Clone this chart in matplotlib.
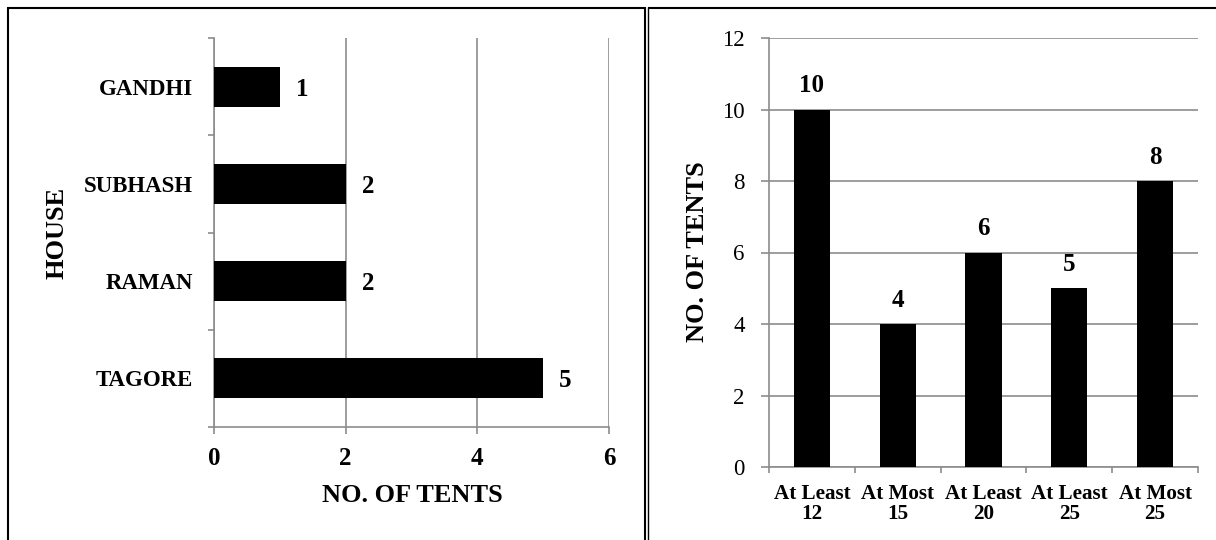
import matplotlib
matplotlib.use("Agg")
import matplotlib.pyplot as plt
from matplotlib.lines import Line2D
import numpy as np

# ---- data ----
houses = ['TAGORE', 'RAMAN', 'SUBHASH', 'GANDHI']
house_tents = [5, 2, 2, 1]
left_xticks = [0, 2, 4, 6]

groups = ['At Least\n12', 'At Most\n15', 'At Least\n20', 'At Least\n25', 'At Most\n25']
group_tents = [10, 4, 6, 5, 8]
right_yticks = [0, 2, 4, 6, 8, 10, 12]

plt.rcParams['font.family'] = ['Liberation Serif', 'DejaVu Serif']

W, H = 1216, 540
fig = plt.figure(figsize=(W / 100, H / 100), dpi=100)


def fx(px):
    return px / W


def fy(py):
    return 1 - py / H


GRID = '#8c8c8c'
GLW = 1.2

# ---- panel borders ----
def fline(x0, y0, x1, y1, lw):
    fig.add_artist(Line2D([fx(x0), fx(x1)], [fy(y0), fy(y1)], color='black',
                          lw=lw, transform=fig.transFigure, solid_capstyle='butt'))

fline(8, 8, 645, 8, 1.5)
fline(8, 7.3, 8, 541, 1.5)
fline(645, 7.3, 645, 541, 1.5)
fline(648.5, 8, 1217, 8, 1.5)
fline(648.5, 7.3, 648.5, 541, 1.0)

# ---- left chart ----
ax1 = fig.add_axes([fx(214), fy(427), fx(609) - fx(214), fy(38) - fy(427)])
y = np.arange(len(houses))
ax1.barh(y, house_tents, height=0.41, color='black', zorder=3)
ax1.set_xlim(0, 6)
ax1.set_ylim(-0.5, len(houses) - 0.5)
ax1.set_xticks(left_xticks)
ax1.set_xticklabels([str(v) for v in left_xticks], fontsize=18, fontweight='bold')
ax1.set_yticks(y)
ax1.set_yticklabels(houses, fontsize=16.5, fontweight='bold')
ax1.set_yticks(np.arange(-0.5, len(houses)), minor=True)
ax1.tick_params(axis='y', which='major', length=0, pad=15)
ax1.tick_params(axis='y', which='minor', length=4.5, color=GRID, width=GLW)
ax1.tick_params(axis='x', which='major', length=5, color=GRID, width=GLW, pad=9.5)
ax1.grid(axis='x', color=GRID, lw=GLW, zorder=0)
for s in ['top', 'right']:
    ax1.spines[s].set_visible(False)
for s in ['left', 'bottom']:
    ax1.spines[s].set_color(GRID)
    ax1.spines[s].set_linewidth(GLW)
for yi, v in zip(y, house_tents):
    ax1.annotate(str(v), (v, yi), xytext=(11.5, 0), textcoords='offset points',
                 ha='left', va='center_baseline', fontsize=18, fontweight='bold')

fig.text(fx(57), fy(233), 'HOUSE', rotation=90, ha='center', va='center',
         fontsize=19, fontweight='bold')
fig.text(fx(412), fy(496), 'NO. OF TENTS', ha='center', va='center',
         fontsize=19, fontweight='bold')

# ---- right chart ----
ax2 = fig.add_axes([fx(769), fy(467), fx(1198) - fx(769), fy(38) - fy(467)])
x = np.arange(len(groups))
ax2.bar(x, group_tents, width=0.42, color='black', zorder=3)
ax2.set_xlim(-0.5, len(groups) - 0.5)
ax2.set_ylim(0, 12)
ax2.set_yticks(right_yticks)
ax2.set_yticklabels([str(v) for v in right_yticks], fontsize=16.5)
ax2.tick_params(axis='y', length=6, color=GRID, width=GLW, pad=11.5)
ax2.set_xticks(x)
ax2.set_xticklabels(groups, fontsize=15.2, fontweight='bold', linespacing=1.05)
ax2.set_xticks(np.arange(-0.5, len(groups)), minor=True)
ax2.tick_params(axis='x', which='major', length=0, pad=12)
ax2.tick_params(axis='x', which='minor', length=4.5, color=GRID, width=GLW)
ax2.grid(axis='y', color=GRID, lw=GLW, zorder=0)
for s in ['top', 'right']:
    ax2.spines[s].set_visible(False)
for s in ['left', 'bottom']:
    ax2.spines[s].set_color(GRID)
    ax2.spines[s].set_linewidth(GLW)
for xi, v in zip(x, group_tents):
    ax2.annotate(str(v), (xi, v), xytext=(0, 12.5), textcoords='offset points',
                 ha='center', va='baseline', fontsize=18, fontweight='bold')

fig.text(fx(697), fy(252), 'NO. OF TENTS', rotation=90, ha='center', va='center',
         fontsize=19, fontweight='bold')

fig.savefig('out.png', dpi=100)
